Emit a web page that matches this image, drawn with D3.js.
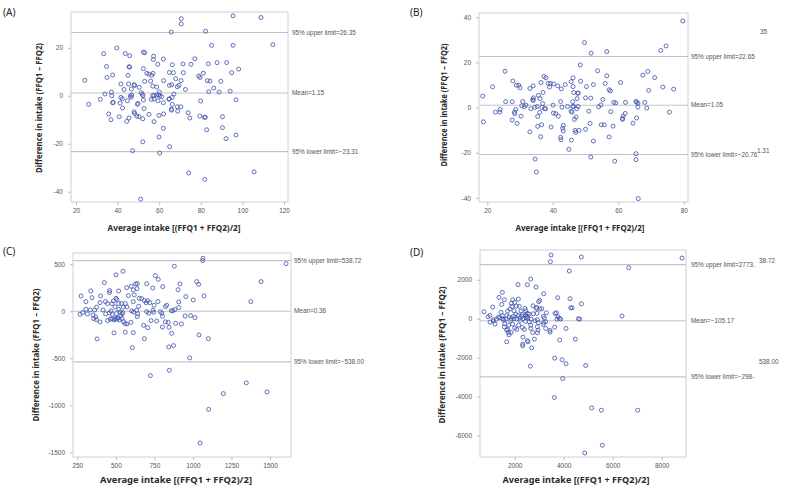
<!DOCTYPE html>
<html><head><meta charset="utf-8">
<script src="https://cdn.jsdelivr.net/npm/d3@7"></script>
<style>body{margin:0;background:#fff}svg{display:block}</style>
</head><body>
<svg id="c" width="786" height="491"></svg>
<script>
// ---------- DATA ----------
const pointsA = [[70.6,32.1],[70.6,29.9],[95.5,33.3],[108.9,32.6],[65.8,26.5],[82.3,26.9],[85.2,21.0],[95.5,21.0],[114.6,21.3],
[33.3,17.5],[39.6,19.9],[43.7,17.6],[45.8,16.7],[52.4,18.2],[53.0,17.9],[57.3,16.5],[57.2,15.1],[62.0,15.3],[77.1,15.4],
[34.7,12.2],[45.5,12.1],[45.8,11.9],[52.4,11.3],[59.3,13.1],[66.3,12.9],[71.4,13.2],[75.3,13.1],[83.6,13.3],[87.8,13.8],[92.4,13.8],
[98.2,11.1],[81.2,9.4],[94.8,9.6],[79.0,8.2],[79.6,7.6],[71.6,9.6],[64.9,9.7],[66.8,9.6],[54.0,9.4],[55.0,9.0],[56.4,8.5],[57.0,9.3],
[37.6,8.6],[34.9,7.6],[45.0,8.5],[67.9,7.1],[62.1,6.3],[55.9,6.1],[53.0,6.0],[70.5,6.3],[83.1,6.3],[84.4,6.1],[89.6,6.0],[24.2,6.4],
[41.6,4.9],[45.3,4.9],[47.9,4.6],[48.2,4.3],[56.9,4.0],[58.8,3.6],[64.9,4.3],[66.0,4.6],[68.7,3.75],[69.5,4.3],[72.6,2.6],[86.2,3.2],
[43.1,2.6],[46.6,2.8],[50.4,3.5],[60.1,1.5],[51.4,1.25],[51.9,0.6],[37.0,1.5],[33.9,0.7],[37.2,0],[41.6,-0.7],[42.3,-1.25],[46.1,-0.1],
[46.5,-0.6],[46.8,0.3],[52.2,0],[56.9,0.1],[57.5,0.1],[58.8,0.3],[59.7,0.4],[60.2,-0.1],[61.2,-0.4],[67.1,0.7],[83.8,1.7],[88.8,1.5],
[94.1,1.9],[31.7,-1.5],[26.1,-3.6],[37.6,-2.9],[37.9,-2.8],[41.2,-3.1],[42.4,-5.1],[44.7,-2.1],[49.5,-3.6],[49.8,-3.2],[52.4,-1.8],
[52.7,-5.3],[56.2,-1.5],[57.5,-1.4],[59.4,-2.1],[62.0,-2.9],[64.6,-1.5],[64.9,-1.25],[66.2,-0.7],[66.3,-3.6],[65.8,-5.6],[66.0,-6.0],
[68.7,-4.6],[68.9,-6.4],[70.4,-4.6],[73.9,-7.1],[79.9,-2.2],[96.9,-1.7],[35.7,-7.6],[36.8,-10.0],[40.8,-8.75],[44.4,-10.7],[45.5,-9.3],
[47.9,-6.7],[48.2,-7.4],[49.2,-8.5],[50.3,-8.75],[52.1,-9.6],[55.1,-7.8],[57.5,-10.8],[59.9,-8.2],[62.1,-7.6],[74.7,-9.3],[79.5,-8.5],
[81.7,-9.0],[82.2,-9.0],[90.4,-8.75],[62.0,-13.6],[82.8,-14.2],[90.4,-13.3],[92.1,-17.9],[96.9,-16.4],[59.9,-17.2],[52.1,-19.2],
[65.0,-21.25],[47.2,-22.9],[60.2,-23.9],[74.2,-32.2],[81.9,-34.9],[105.6,-31.7],[51.1,-43.1]];

const pointsB = [[79.7,38.4],[49.7,28.8],[51.7,24.1],[56.5,24.8],[73.0,25.3],[74.6,27.3],[25.4,16.1],[21.6,9.2],[18.6,5.1],[18.8,-6.3],
[25.6,2.6],[22.5,-2.0],[23.8,-2.0],[23.9,-0.8],[27.6,2.6],[27.8,11.8],[28.9,9.9],[29.6,9.9],[30.0,8.8],[28.3,-2.0],[28.4,-2.7],[28.7,-0.8],
[27.6,-5.5],[29.1,-7.0],[30.3,-3.8],[30.8,2.7],[31.3,0.4],[31.8,1.1],[33.0,8.5],[34.0,9.6],[33.0,-10.7],[33.9,3.5],[34.0,3.2],[33.3,-0.5],
[34.5,0.1],[35.2,0.5],[34.6,-22.8],[35.0,-28.5],[35.6,5.4],[36.1,4.0],[36.4,11.1],[36.7,0.1],[36.0,-2.1],[35.4,-3.9],[35.4,-8.3],[36.6,-7.6],
[36.3,-12.9],[36.9,1.8],[37.0,6.7],[37.3,13.8],[37.9,13.2],[37.5,-0.4],[37.8,-0.5],[38.6,10.7],[39.3,10.7],[39.0,9.1],[39.5,-8.6],[40.1,1.1],
[40.2,10.5],[40.2,-2.4],[40.9,-2.7],[41.7,-3.8],[41.5,9.6],[42.6,8.3],[42.4,2.7],[42.8,0.2],[42.4,-13.2],[42.5,-14.2],[43.0,-9.1],[43.2,-7.9],
[43.2,-10.3],[43.8,10.2],[44.5,0.5],[44.9,-18.5],[45.6,11.5],[45.6,-1.7],[45.9,-2.0],[45.7,-14.4],[46.1,2.6],[46.1,0.5],[46.2,13.2],[46.2,9.3],
[46.4,6.7],[46.4,0.5],[46.6,-5.2],[46.8,-10.1],[47.0,-11.0],[47.1,-4.2],[47.3,-0.5],[47.4,4.0],[47.6,6.4],[47.8,6.4],[47.7,0.5],[48.0,-10.1],
[48.4,18.9],[48.5,11.7],[50.0,4.3],[50.3,9.3],[50.0,-9.6],[51.0,-1.6],[51.4,-7.0],[51.6,4.2],[51.6,-21.9],[52.4,10.2],[52.4,-14.8],[53.7,16.3],
[54.0,0.4],[54.7,1.2],[54.8,-7.6],[55.3,3.6],[55.7,-7.6],[56.0,10.7],[56.5,14.1],[57.2,7.9],[57.6,7.4],[57.7,-1.8],[57.2,-13.0],[58.4,-8.2],
[58.6,2.3],[59.2,2.1],[58.9,-23.7],[60.7,11.1],[61.3,-4.8],[61.3,-5.2],[61.5,-3.8],[62.1,-2.6],[62.2,2.3],[64.5,-6.9],[65.4,2.7],[65.6,2.4],
[66.0,2.0],[65.6,-4.6],[66.0,0.2],[65.4,-20.4],[65.4,-23.0],[66.1,-40.3],[67.5,14.4],[68.1,2.3],[68.7,-0.2],[69.0,16.0],[69.3,7.6],[71.1,13.3],
[73.6,9.1],[75.6,-2.0],[76.9,8.2],[30.5,0.8],[34.1,4.3]];

const pointsC = [[1065,564],[1063,539],[879,479],[1604,507],[546,426],[501,387],[756,379],[775,340],[425,305],[1024,316],[1037,287],[916,291],
[1442,316],[700,294],[739,248],[804,262],[903,230],[600,266],[628,291],[637,241],[613,227],[570,252],[639,294],[460,220],[518,216],[337,216],
[274,163],[345,145],[401,163],[458,199],[306,103],[1002,121],[1072,163],[1375,103],[581,167],[501,138],[507,124],[518,82],[484,110],[397,92],
[432,103],[667,135],[685,113],[706,113],[696,92],[720,92],[748,64],[648,53],[613,103],[652,138],[619,174],[561,82],[537,82],[548,46],[572,46],
[475,82],[445,82],[375,43],[306,21],[285,-14],[267,-32],[334,14],[362,14],[458,-18],[468,4],[494,46],[518,21],[527,-7],[540,-25],[546,-14],
[602,4],[615,-7],[635,11],[641,-28],[639,-57],[700,-4],[713,-21],[741,11],[745,-11],[789,-4],[798,-21],[802,-53],[821,50],[830,64],[860,7],
[869,4],[882,18],[908,39],[908,99],[949,-50],[985,-46],[1013,-67],[369,-60],[356,-78],[373,-89],[352,-39],[397,-113],[447,-99],[464,-85],
[475,-78],[488,-92],[492,-78],[503,-85],[510,-71],[514,-74],[523,-92],[540,-78],[598,-117],[550,-110],[559,-131],[572,-135],[680,-149],
[706,-174],[728,-99],[765,-103],[802,-167],[821,-113],[840,-117],[845,-170],[862,-234],[888,-128],[925,-135],[488,-230],[561,-223],[613,-227],
[378,-294],[607,-387],[685,-291],[843,-379],[874,-365],[1039,-252],[1100,-291],[979,-496],[847,-628],[724,-684],[1346,-762],[1197,-876],
[1480,-858],[1102,-1043],[1046,-1401],[533,-46],[477,-32],[417,14],[434,-28],[315,-28],[503,-25],[773,103],[954,156]];

const pointsD = [[3483,3268],[3456,2926],[4721,3166],[8830,3114],[6653,2617],[4231,2446],[2653,2035],[2136,1744],[2517,1744],[2871,1624],
[1497,1350],[1361,1093],[1578,973],[2150,1007],[3184,1281],[3755,1076],[4258,1024],[4721,764],[4286,558],[4340,558],[6381,134],[4599,-3],
[4653,-21],[1102,596],[1470,733],[748,356],[911,99],[993,-175],[1129,-123],[1197,-278],[1442,322],[1497,151],[1551,-72],[1633,-38],[1714,391],
[1673,168],[1578,-415],[1673,-586],[1714,-552],[1673,-1186],[1769,-826],[1850,-706],[1864,785],[1891,630],[1918,973],[2000,836],[1973,408],
[2041,236],[2136,168],[2082,-21],[1864,14],[1769,99],[2191,630],[2259,391],[2313,219],[2422,528],[2449,408],[2463,48],[2517,271],[2585,236],
[2163,-329],[2000,-483],[2313,-449],[2436,-140],[2395,-552],[2340,-946],[2327,-1305],[2327,-1391],[2517,-1134],[2544,-1186],[2694,-1494],
[2640,-2436],[2748,664],[2762,253],[2667,-21],[2653,-329],[2653,-500],[2735,-706],[2803,-1048],[2830,-106],[2884,528],[2898,580],[2911,271],
[2925,-55],[2966,-209],[2925,-415],[2925,-723],[2980,870],[3021,939],[3021,493],[3102,511],[3170,117],[3211,31],[3170,-295],[3266,-158],
[3293,305],[3442,-603],[3442,-689],[3633,-432],[3633,-2024],[3619,-4046],[3646,271],[3701,305],[3728,-21],[3769,99],[3823,14],[3877,-21],
[3837,-1100],[3932,-2110],[3959,-3069],[4095,-2316],[4095,-500],[4476,-1048],[4898,-2402],[5143,-4578],[5537,-4697],[7020,-4697],[4857,-6889],
[5578,-6495],[993,168],[1129,-55],[1251,-21],[1333,65],[1401,48],[1510,-3],[1592,-260],[1755,-329],[1837,-89],[1946,117],[1973,-3],[2204,31],
[2231,-89],[2286,117],[2340,-3],[2436,168],[2531,48],[2599,-158],[1741,-706],[1918,-278],[2068,647],[1810,493],[2503,117],[3184,-192],
[3266,-500],[2952,-586],[2082,-552]];

const xTicksA = [20,40,60,80,100,120], yTicksA = [20,0,-20,-40];
const xTicksB = [20,40,60,80], yTicksB = [40,20,0,-20,-40];
const xTicksC = [250,500,750,1000,1250,1500], yTicksC = [500,0,-500,-1000,-1500];
const xTicksD = [2000,4000,6000,8000], yTicksD = [2000,0,-2000,-4000,-6000];

const limitsA = [26.35, 1.15, -23.31];
const limitsB = [22.65, 1.05, -20.76];
const limitsC = [538.72, 0.36, -538.00];
const limitsD = [2773, -105.17, -2983];

const labelsA = ["95% upper limit=26.35","Mean=1.15","95% lower limit=−23.31"];
const labelsB = ["95% upper limit=22.65","Mean=1.05","95% lower limit=−20.76"];
const labelsC = ["95% upper limit=538.72","Mean=0.36","95% lower limit=−538.00"];
const labelsD = ["95% upper limit=2773.","Mean=−105.17","95% lower limit=−298-"];

const panelLetters = ["(A)","(B)","(C)","(D)"];
const yTitle = "Difference in intake (FFQ1 – FFQ2)";
const xTitleTop = "Average intake [(FFQ1 + FFQ2)/2]";
const xTitleBottom = "Average  intake  [(FFQ1  +  FFQ2)/2]";

// ---------- DRAW ----------
const svg = d3.select("#c");
const tickFont = "Liberation Sans, Arial, sans-serif";
const titleFont = "Noto Sans, Open Sans, sans-serif";

function panel(cfg){
  const g = svg.append("g");
  const x = d3.scaleLinear().domain(cfg.xd).range([cfg.x0, cfg.x1]);
  const y = d3.scaleLinear().domain(cfg.yd).range([cfg.y1, cfg.y0]);
  g.append("rect").attr("x",cfg.x0).attr("y",cfg.y0)
    .attr("width",cfg.x1-cfg.x0).attr("height",cfg.y1-cfg.y0)
    .attr("fill","none").attr("stroke","#cdd0d6").attr("stroke-width",1);
  const ax = g.append("g").attr("transform",`translate(0,${cfg.y1})`)
    .call(d3.axisBottom(x).tickValues(cfg.xt).tickSize(3).tickPadding(3).tickFormat(d=>String(d)));
  const ay = g.append("g").attr("transform",`translate(${cfg.x0},0)`)
    .call(d3.axisLeft(y).tickValues(cfg.yt).tickSize(3).tickPadding(5).tickFormat(d=>String(d)));
  [ax,ay].forEach(a=>{
    a.select(".domain").remove();
    a.selectAll("line").attr("stroke","#b8bcc4");
    a.selectAll("text").attr("fill","#555").style("font-family",tickFont).style("font-size","6.5px");
  });
  cfg.lim.forEach((v,i)=>{
    g.append("line").attr("x1",cfg.x0).attr("x2",cfg.x1).attr("y1",y(v)).attr("y2",y(v))
      .attr("stroke","#c2c4c8").attr("stroke-width",1.1);
    g.append("text").attr("x",cfg.lx).attr("y",y(v)).attr("dy","0.35em")
      .attr("fill","#555").style("font-family",tickFont).style("font-size","6.4px").text(cfg.labels[i]);
  });
  g.append("g").selectAll("circle").data(cfg.pts).join("circle")
    .attr("cx",d=>x(d[0])).attr("cy",d=>y(d[1])).attr("r",2)
    .attr("fill","none").attr("stroke","#4459b0").attr("stroke-width",0.85);
  g.append("text").attr("x",cfg.xtx).attr("y",cfg.xty).attr("text-anchor","middle")
    .attr("textLength",cfg.xtw).attr("lengthAdjust","spacingAndGlyphs")
    .style("font-family",titleFont).style("font-weight","bold").style("font-size",cfg.xfs+"px")
    .attr("fill","#2a2a2a").text(cfg.xtitle);
  g.append("text").attr("transform",`translate(${cfg.ytx},${cfg.yty}) rotate(-90)`).attr("text-anchor","middle")
    .attr("textLength",cfg.ytw).attr("lengthAdjust","spacingAndGlyphs")
    .style("font-family",titleFont).style("font-weight","bold").style("font-size",cfg.yfs+"px")
    .attr("fill","#2a2a2a").text(yTitle);
  g.append("text").attr("x",cfg.px).attr("y",cfg.py).style("font-family",titleFont).style("font-size","10px")
    .attr("fill","#222").text(cfg.letter);
}

panel({x0:71,x1:288,y0:12,y1:202,xd:[17.6,121.9],yd:[-44.3,34.9],xt:xTicksA,yt:yTicksA,pts:pointsA,lim:limitsA,labels:labelsA,lx:292,
  xtitle:xTitleTop,xtx:174,xty:231,xtw:133,xfs:8,ytx:42,yty:108,ytw:130,yfs:8,letter:panelLetters[0],px:3,py:16});
panel({x0:479,x1:688,y0:13,y1:202,xd:[17.46,81.3],yd:[-41.8,41.9],xt:xTicksB,yt:yTicksB,pts:pointsB,lim:limitsB,labels:labelsB,lx:691,
  xtitle:xTitleTop,xtx:580,xty:231,xtw:129,xfs:8,ytx:447,yty:105,ytw:123,yfs:8,letter:panelLetters[1],px:410,py:16});
panel({x0:73,x1:291,y0:253,y1:457,xd:[222,1636],yd:[-1550,620],xt:xTicksC,yt:yTicksC,pts:pointsC,lim:limitsC,labels:labelsC,lx:294,
  xtitle:xTitleBottom,xtx:176,xty:483,xtw:152,xfs:9,ytx:39,yty:355,ytw:133,yfs:8.5,letter:panelLetters[2],px:3,py:255});
panel({x0:480,x1:686,y0:250,y1:457,xd:[584,8992],yd:[-7097,3525],xt:xTicksD,yt:yTicksD,pts:pointsD,lim:limitsD,labels:labelsD,lx:691,
  xtitle:xTitleBottom,xtx:576,xty:483,xtw:147,xfs:9,ytx:445,yty:355,ytw:137,yfs:8.5,letter:panelLetters[3],px:410,py:256});

// stray overlapping label fragments seen in the reference
const strays = [["35",760,32],["1.31",757,151],["38.72",759,261],["538.00",759,362]];
strays.forEach(s=>svg.append("text").attr("x",s[1]).attr("y",s[2]).attr("dy","0.35em")
  .attr("fill","#555").style("font-family",tickFont).style("font-size","6.4px").text(s[0]));
</script>
</body></html>
